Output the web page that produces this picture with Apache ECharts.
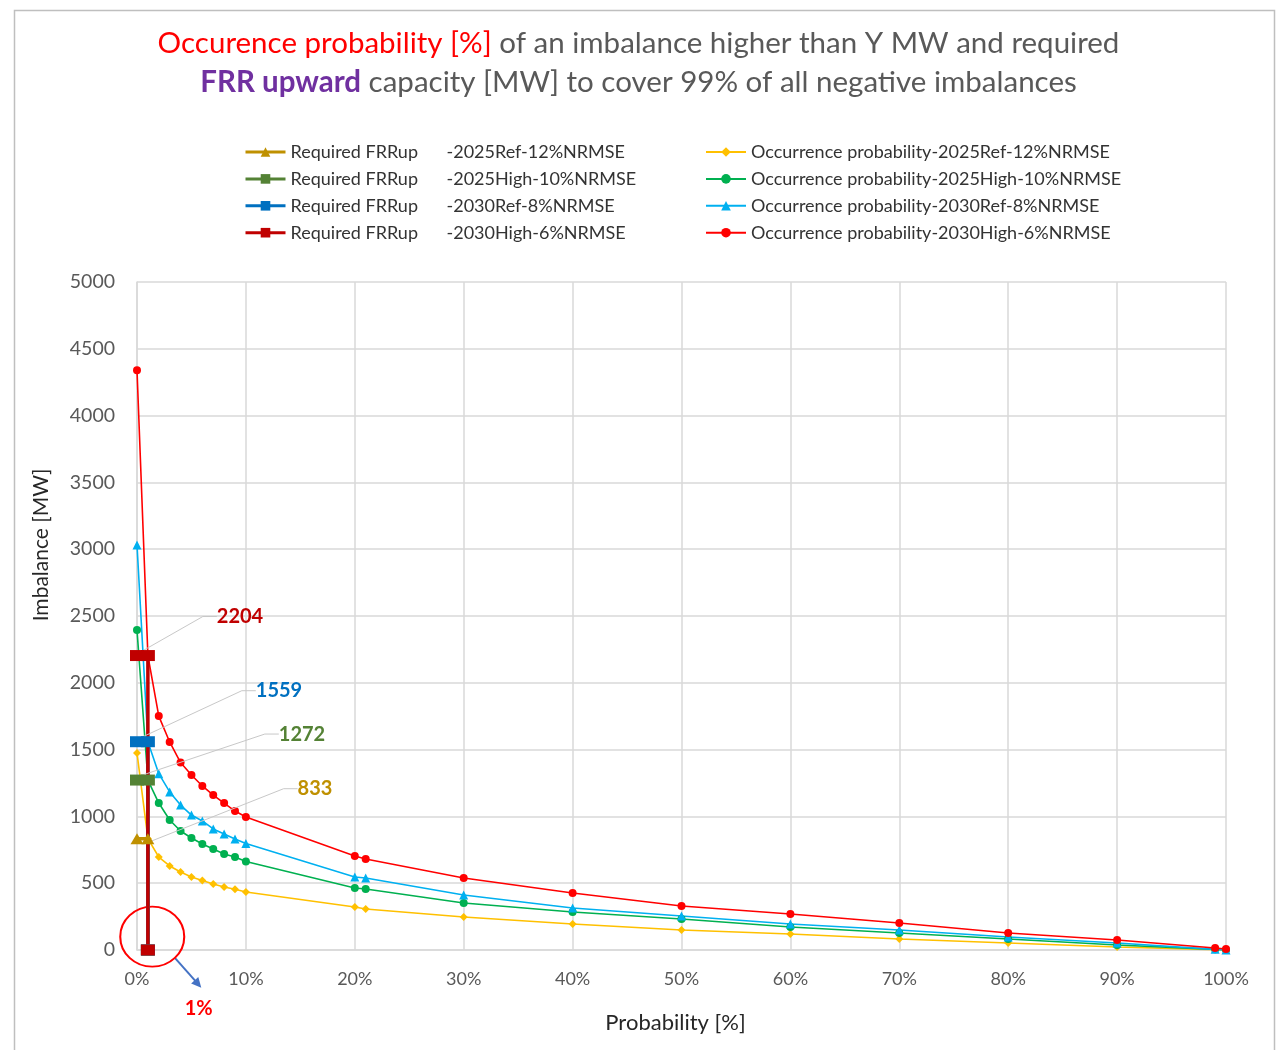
<!DOCTYPE html>
<html>
<head>
<meta charset="utf-8">
<title>FRR upward capacity</title>
<script src="https://cdn.jsdelivr.net/npm/echarts@6/dist/echarts.min.js"></script>
<style>
  html, body { margin: 0; padding: 0; background: #ffffff; }
  #chart { width: 1277px; height: 1050px; }
</style>
</head>
<body>
<div id="chart"></div>
<script>
// Probability steps [%] at which the imbalance duration curves are sampled
const probabilityPct = [0, 1, 2, 3, 4, 5, 6, 7, 8, 9, 10, 20, 21, 30, 40, 50, 60, 70, 80, 90, 99, 100];

// Imbalance [MW] exceeded with the given probability, per scenario
const occ2025Ref  = [1475, 833, 696, 629, 584, 546, 520, 494, 472, 455, 434, 322, 307, 247, 195, 150, 120, 82, 52, 22, 3, 0];
const occ2025High = [2395, 1272, 1100, 973, 891, 838, 793, 756, 719, 696, 662, 464, 457, 352, 284, 232, 172, 127, 82, 37, 5, 0];
const occ2030Ref  = [3031, 1559, 1320, 1183, 1085, 1010, 966, 906, 868, 831, 797, 546, 539, 412, 314, 254, 195, 150, 97, 52, 5, 0];
const occ2030High = [4340, 2204, 1751, 1557, 1403, 1310, 1228, 1160, 1100, 1040, 996, 704, 681, 539, 427, 329, 269, 202, 127, 75, 15, 7];

// Required FRR upward capacity [MW] covering 99% of negative imbalances
const reqScenarios = ['2025Ref-12%NRMSE', '2025High-10%NRMSE', '2030Ref-8%NRMSE', '2030High-6%NRMSE'];
const reqValues = [833, 1272, 1559, 2204];
const coverageStepPct = 1;           // 1% exceedance -> 99% coverage

// Axis ticks
const yTicks = [0, 500, 1000, 1500, 2000, 2500, 3000, 3500, 4000, 4500, 5000];
const xTicks = [0, 10, 20, 30, 40, 50, 60, 70, 80, 90, 100];

const FONT = 'Lato, "Open Sans", sans-serif';

const occColors = ['#FFC000', '#00B050', '#00B0F0', '#FF0000'];
const occSymbols = ['diamond', 'circle', 'triangle', 'circle'];
const occSizes = [8, 8, 9, 8];
const occData = [occ2025Ref, occ2025High, occ2030Ref, occ2030High];

const reqColors = ['#BF9000', '#548235', '#0070C0', '#C00000'];
const reqSymbols = ['triangle', 'rect', 'rect', 'rect'];
const reqSizes = [[13, 11], [14, 11], [14, 11], [14, 11]];
// offset of each value callout from its marker
const calloutOffsets = [[178, -50], [165, -46], [142, -51], [103, -39]];

const zip = (xs, ys) => xs.map((x, i) => [x, ys[i]]);

const series = [];

reqScenarios.forEach((sc, i) => {
  const v = reqValues[i];
  series.push({
    name: 'Required FRRup -' + sc,
    type: 'line',
    z: 5,
    data: [
      {
        value: [0, v],
        label: {
          show: true,
          position: 'inside',
          formatter: String(v),
          color: reqColors[i],
          fontFamily: FONT,
          fontWeight: 'bold',
          fontSize: 20
        },
        labelLine: { show: true, length2: 14, lineStyle: { color: '#c8c8c8', width: 1 } }
      },
      [coverageStepPct, v],
      [coverageStepPct, 0]
    ],
    labelLayout: { dx: calloutOffsets[i][0], dy: calloutOffsets[i][1] },
    symbol: reqSymbols[i],
    symbolSize: reqSizes[i],
    showSymbol: true,
    lineStyle: { color: reqColors[i], width: 3.5 },
    itemStyle: { color: reqColors[i] },
    emphasis: { disabled: true },
    animation: false
  });
});

occData.forEach((vals, i) => {
  series.push({
    name: 'Occurrence probability-' + reqScenarios[i],
    type: 'line',
    z: 3,
    data: zip(probabilityPct, vals),
    symbol: occSymbols[i],
    symbolSize: occSizes[i],
    showSymbol: true,
    lineStyle: { color: occColors[i], width: 1.6 },
    itemStyle: { color: occColors[i] },
    emphasis: { disabled: true },
    animation: false
  });
});

// Highlight ellipse around the 1% step at the bottom of the chart
const highlightAt = [1.4, 100];
series[3].markPoint = {
  symbol: 'circle',
  symbolSize: [64, 60],
  silent: true,
  label: { show: false },
  itemStyle: { color: 'rgba(0,0,0,0)', borderColor: '#FF0000', borderWidth: 2 },
  data: [{ coord: highlightAt }]
};

const legendText = {
  fontFamily: FONT,
  fontSize: 18,
  color: '#333333',
  rich: {
    a: { fontFamily: FONT, fontSize: 18, color: '#333333', width: 156, lineHeight: 16 },
    b: { fontFamily: FONT, fontSize: 18, color: '#333333', lineHeight: 16 }
  }
};

const option = {
  backgroundColor: '#ffffff',
  animation: false,
  title: {
    left: 'center',
    top: 19,
    text: '{r|Occurence probability [%]}{g| of an imbalance higher than Y MW and required}\n{p|FRR upward}{g| capacity [MW] to cover 99% of all negative imbalances}',
    textStyle: {
      fontFamily: FONT,
      fontSize: 29.5,
      fontWeight: 'normal',
      lineHeight: 39,
      align: 'center',
      rich: {
        r: { color: '#FF0000', fontFamily: FONT, fontSize: 29.5, lineHeight: 39 },
        g: { color: '#595959', fontFamily: FONT, fontSize: 29.5, lineHeight: 39 },
        p: { color: '#7030A0', fontFamily: FONT, fontSize: 29.5, fontWeight: 'bold', lineHeight: 39 }
      }
    }
  },
  legend: [
    {
      orient: 'vertical',
      left: 239,
      top: 138,
      itemWidth: 40,
      itemHeight: 12,
      itemGap: 8.9,
      data: series.slice(0, 4).map(s => ({ name: s.name, lineStyle: { width: 3 } })),
      formatter: name => {
        const parts = name.split(' -');
        return '{a|' + parts[0] + '}{b|-' + parts[1] + '}';
      },
      textStyle: legendText
    },
    {
      orient: 'vertical',
      left: 700,
      top: 138,
      itemWidth: 40,
      itemHeight: 12,
      itemGap: 8.9,
      data: series.slice(4).map(s => s.name),
      formatter: name => '{b|' + name + '}',
      textStyle: legendText
    }
  ],
  grid: { left: 137, top: 282, width: 1089, height: 668, containLabel: false },
  xAxis: {
    type: 'value',
    min: xTicks[0],
    max: xTicks[xTicks.length - 1],
    interval: xTicks[1] - xTicks[0],
    name: 'Probability [%]',
    nameLocation: 'middle',
    nameGap: 62,
    nameTextStyle: { fontFamily: FONT, fontSize: 22, color: '#262626', padding: [0, 12, 0, 0] },
    axisLine: { show: true, lineStyle: { color: '#d9d9d9', width: 1.5 } },
    axisTick: { show: false },
    splitLine: { show: true, lineStyle: { color: '#d9d9d9', width: 1.5 } },
    axisLabel: { formatter: '{value}%', fontFamily: FONT, fontSize: 18, color: '#595959', margin: 20 }
  },
  yAxis: {
    type: 'value',
    min: yTicks[0],
    max: yTicks[yTicks.length - 1],
    interval: yTicks[1] - yTicks[0],
    name: 'Imbalance [MW]',
    nameLocation: 'middle',
    nameGap: 85,
    nameTextStyle: { fontFamily: FONT, fontSize: 21, color: '#262626', padding: [0, 0, 0, 142] },
    axisLine: { show: true, lineStyle: { color: '#d9d9d9', width: 1.5 } },
    axisTick: { show: false },
    splitLine: { show: true, lineStyle: { color: '#d9d9d9', width: 1.5 } },
    axisLabel: { formatter: v => String(v), fontFamily: FONT, fontSize: 19.5, color: '#595959', margin: 22 }
  },
  series: series.slice(4).concat(series.slice(0, 4))
};

const chart = echarts.init(document.getElementById('chart'), null, { renderer: 'canvas' });
chart.setOption(option);

// Frame, pointer arrow and "1%" note below the highlighted step
const c = chart.convertToPixel({ gridIndex: 0 }, highlightAt);
const start = [c[0] + 32 * 0.7, c[1] + 30 * 0.7];
const end = [start[0] + 24, start[1] + 27];
const ang = Math.atan2(end[1] - start[1], end[0] - start[0]);
const head = 11, spread = 0.45;
const tip = [end[0] + 4 * Math.cos(ang), end[1] + 4 * Math.sin(ang)];
chart.setOption({
  graphic: [
    {
      type: 'rect', left: 12, top: 8, silent: true,
      shape: { width: 1260, height: 1060 },
      style: { fill: 'none', stroke: '#bfbfbf', lineWidth: 1.5 }
    },
    {
      type: 'line', silent: true,
      shape: { x1: start[0], y1: start[1], x2: end[0], y2: end[1] },
      style: { stroke: '#4472C4', lineWidth: 2 }
    },
    {
      type: 'polygon', silent: true,
      shape: {
        points: [
          tip,
          [tip[0] - head * Math.cos(ang - spread), tip[1] - head * Math.sin(ang - spread)],
          [tip[0] - head * Math.cos(ang + spread), tip[1] - head * Math.sin(ang + spread)]
        ]
      },
      style: { fill: '#4472C4' }
    },
    {
      type: 'text', silent: true,
      x: end[0], y: end[1] + 24,
      style: {
        text: coverageStepPct + '%',
        fill: '#FF0000',
        font: 'bold 20px ' + FONT,
        align: 'center',
        verticalAlign: 'middle'
      }
    }
  ]
});
</script>
</body>
</html>
